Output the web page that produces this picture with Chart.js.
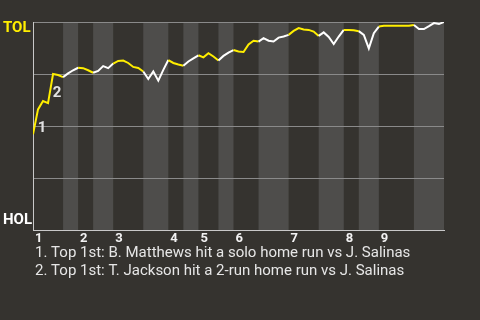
<!DOCTYPE html>
<html>
<head>
<meta charset="utf-8">
<script src="https://cdn.jsdelivr.net/npm/chart.js@4.4.1/dist/chart.umd.min.js"></script>
<style>
  html, body { margin: 0; padding: 0; background: #35332f; }
  #wrap { width: 480px; height: 320px; }
</style>
</head>
<body>
<div id="wrap"><canvas id="wp"></canvas></div>
<script>
// win probability for TOL after each plate appearance (0 = HOL wins, 100 = TOL wins)
const winProb = [
  46, 58, 62, 61, 75, 74.5, 73.5, 75.3, 76.8, 78,
  77.8, 76.8, 75.6, 76.5, 78.8, 77.8, 80, 81.3, 81.5, 80.3,
  78.4, 77.9, 76.2, 72.6, 76.2, 71.8, 77, 81.7, 80.3, 79.6,
  79, 81, 82.5, 84, 83, 85, 83.4, 81.5, 83.7, 85.3,
  86.5, 85.8, 85.6, 89.2, 91, 90.6, 92.2, 91, 90.6, 92.5,
  93, 93.8, 95.7, 97.1, 96.4, 96.2, 95.4, 93.3, 95, 92.8,
  89.4, 93, 96.2, 96.2, 96, 95.6, 93.8, 87.3, 94.6, 97.8,
  98.2, 98.2, 98.2, 98.2, 98.2, 98.2, 98.6, 96.6, 96.6, 98,
  99.5, 99, 100
];

// plate appearances in each half inning (top 1st, bottom 1st, ...)
const halfLengths = [6, 3, 3, 4, 6, 5, 3, 3, 4, 3, 5, 6, 6, 5, 3, 4, 7, 6];
const innings = ['1', '2', '3', '4', '5', '6', '7', '8', '9'];

const teamTop = 'TOL';
const teamBottom = 'HOL';

// key plays
const eventIndex = [1, 4];
const eventLabels = ['1', '2'];
const eventNotes = [
  '1. Top 1st: B. Matthews hit a solo home run vs J. Salinas',
  '2. Top 1st: T. Jackson hit a 2-run home run vs J. Salinas'
];

const YELLOW = '#ffee00';
const WHITE = '#ffffff';

// inicio de cada media entrada
const halfStarts = [];
let acc = 0;
halfLengths.forEach(n => { halfStarts.push(acc); acc += n; });
const totalPA = acc;
const inningStarts = halfStarts.filter((s, i) => i % 2 === 0);

function halfOf(idx) {
  let h = 0;
  for (let i = 0; i < halfStarts.length; i++) {
    if (idx >= halfStarts[i]) h = i;
  }
  return h;
}

// bandas grises para la parte baja de cada entrada
const bandsPlugin = {
  id: 'bands',
  beforeDraw(chart) {
    const { ctx, chartArea, scales } = chart;
    ctx.save();
    ctx.fillStyle = '#35332f';
    ctx.fillRect(0, 0, chart.width, chart.height);
    ctx.fillStyle = '#4e4d4b';
    halfStarts.forEach((s, i) => {
      if (i % 2 === 0) return;
      const x0 = scales.x.getPixelForValue(s);
      const x1 = scales.x.getPixelForValue(s + halfLengths[i]);
      ctx.fillRect(x0, chartArea.top, x1 - x0, chartArea.bottom - chartArea.top);
    });
    ctx.restore();
  }
};

// etiquetas de equipos, jugadas y notas
const textPlugin = {
  id: 'texts',
  afterDraw(chart) {
    const { ctx, chartArea, scales } = chart;
    ctx.save();
    ctx.textBaseline = 'middle';

    ctx.font = 'bold 15px Roboto';
    ctx.textAlign = 'left';
    ctx.fillStyle = YELLOW;
    ctx.fillText(teamTop, 3, chartArea.top + 6);
    ctx.fillStyle = WHITE;
    ctx.fillText(teamBottom, 3, chartArea.bottom - 10);

    ctx.textAlign = 'center';
    ctx.fillStyle = '#e2e2e2';
    eventIndex.forEach((idx, i) => {
      const x = scales.x.getPixelForValue(idx);
      const y = scales.y.getPixelForValue(winProb[idx]);
      ctx.fillText(eventLabels[i], x + 4, y + 19);
    });

    ctx.font = '15px Roboto';
    ctx.textAlign = 'left';
    ctx.fillStyle = '#e6e6e6';
    eventNotes.forEach((t, i) => {
      ctx.fillText(t, chartArea.left + 2, chartArea.bottom + 23 + i * 18);
    });
    ctx.restore();
  }
};

new Chart(document.getElementById('wp'), {
  type: 'line',
  data: {
    datasets: [{
      data: winProb.map((v, i) => ({ x: i, y: v })),
      borderWidth: 2,
      pointRadius: 0,
      tension: 0,
      fill: false,
      segment: {
        borderColor: c => (halfOf(c.p0DataIndex) % 2 === 0 ? YELLOW : WHITE)
      }
    }]
  },
  options: {
    responsive: true,
    maintainAspectRatio: false,
    animation: false,
    layout: { padding: { top: 22, right: 36, left: 0, bottom: 0 } },
    plugins: { legend: { display: false }, tooltip: { enabled: false } },
    scales: {
      x: {
        type: 'linear',
        min: 0,
        max: totalPA,
        afterBuildTicks: axis => {
          axis.ticks = inningStarts.map(v => ({ value: v }));
        },
        afterFit: axis => { axis.height = 90; },
        grid: { display: false, drawTicks: false },
        border: { color: '#c8c8c8', width: 1 },
        ticks: {
          callback: (v, i) => innings[i],
          align: 'start',
          labelOffset: 2,
          padding: 1,
          maxRotation: 0,
          autoSkip: false,
          color: '#f2f2f2',
          font: { family: 'Roboto', size: 13, weight: 'bold' }
        }
      },
      y: {
        min: 0,
        max: 100,
        afterFit: axis => { axis.width = 33; },
        ticks: { display: false, stepSize: 25 },
        grid: { color: '#8a8a8a', drawTicks: false },
        border: { color: '#c8c8c8', width: 1 }
      }
    }
  },
  plugins: [bandsPlugin, textPlugin]
});
</script>
</body>
</html>
